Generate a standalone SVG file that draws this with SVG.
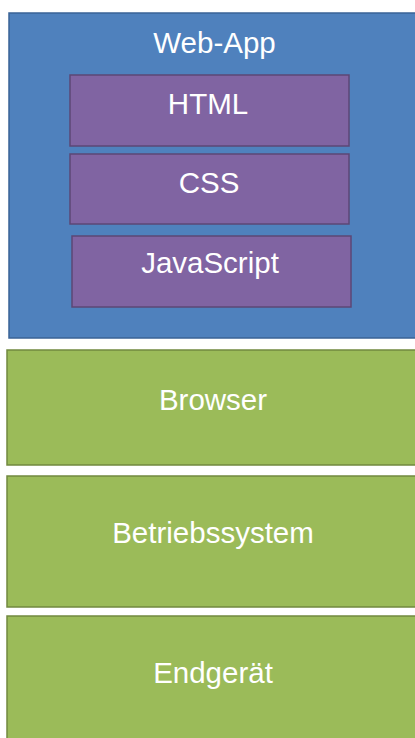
<svg xmlns="http://www.w3.org/2000/svg" width="415" height="738" viewBox="0 0 415 738">
  <style>
    .lbl { font-family: "Liberation Sans", Arial, sans-serif; font-size: 29.5px; fill: #ffffff; text-anchor: middle; }
    .app { fill: #4f81bd; stroke: #3a6396; stroke-width: 1.5; }
    .tech { fill: #8064a2; stroke: #5c4776; stroke-width: 1.5; }
    .layer { fill: #9bbb59; stroke: #71893f; stroke-width: 1.5; }
  </style>
  <rect width="415" height="738" fill="#ffffff"/>

  <!-- application container -->
  <g id="web-app">
    <rect class="app" x="9" y="13" width="420" height="325"/>
    <text class="lbl" x="214.5" y="53">Web-App</text>
  </g>
  <g id="html">
    <rect class="tech" x="70" y="75" width="279" height="71"/>
    <text class="lbl" x="208" y="114">HTML</text>
  </g>
  <g id="css">
    <rect class="tech" x="70" y="154" width="279" height="70"/>
    <text class="lbl" x="209" y="193">CSS</text>
  </g>
  <g id="javascript">
    <rect class="tech" x="72" y="236" width="279" height="71"/>
    <text class="lbl" x="210" y="273">JavaScript</text>
  </g>

  <!-- platform layers -->
  <g id="browser">
    <rect class="layer" x="7" y="350" width="420" height="115"/>
    <text class="lbl" x="213" y="410">Browser</text>
  </g>
  <g id="betriebssystem">
    <rect class="layer" x="7" y="476" width="420" height="131"/>
    <text class="lbl" x="213" y="543">Betriebssystem</text>
  </g>
  <g id="endgeraet">
    <rect class="layer" x="7" y="616" width="420" height="140"/>
    <text class="lbl" x="213" y="683">Endgerät</text>
  </g>

  <g id="connectors"/>
</svg>
